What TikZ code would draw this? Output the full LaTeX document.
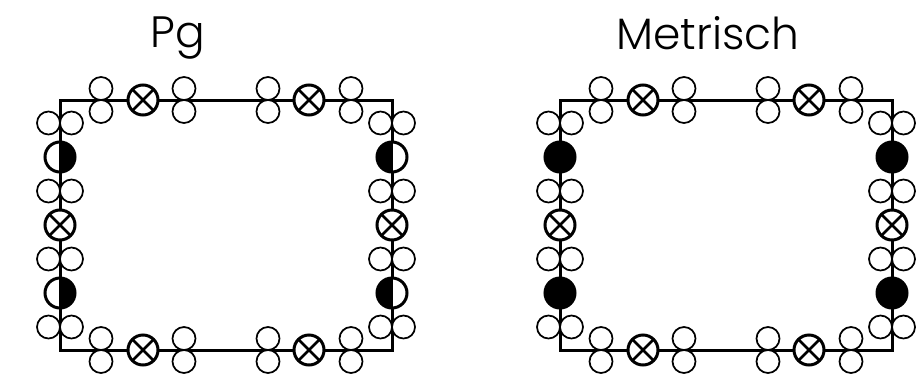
\documentclass[tikz,border=0pt]{standalone}
\usepackage{fontspec}
\newfontfamily\titlefont[UprightFont=* Light]{Poppins}
\tikzset{
  framebox/.style={line width=0.06cm},
  smallring/.style={circle,draw,line width=0.035cm,fill=white,inner sep=0pt,minimum size=0.46cm,outer sep=0pt},
  bigring/.style={circle,draw,line width=0.06cm,fill=white,inner sep=0pt,minimum size=0.6cm,outer sep=0pt},
  crossring/.style={bigring,path picture={
    \draw[line width=0.05cm] (path picture bounding box.north west) -- (path picture bounding box.south east);
    \draw[line width=0.05cm] (path picture bounding box.north east) -- (path picture bounding box.south west);}},
  blackring/.style={bigring,fill=black},
  halfright/.style={bigring,path picture={
    \fill[black] (path picture bounding box.north) rectangle (path picture bounding box.south east);
    \draw[line width=0.05cm] (path picture bounding box.north) -- (path picture bounding box.south);}},
  halfleft/.style={bigring,path picture={
    \fill[black] (path picture bounding box.north) rectangle (path picture bounding box.south west);
    \draw[line width=0.05cm] (path picture bounding box.north) -- (path picture bounding box.south);}},
  title/.style={font=\titlefont\fontsize{25}{25}\selectfont,inner sep=0pt,anchor=base}
}
\begin{document}
\begin{tikzpicture}
  \useasboundingbox (0,0) rectangle (18.44,7.52);

  \node (pgtitle) [title] at (3.55,6.58) {Pg};
  \node (mettitle) [title] at (14.16,6.54) {Metrisch};

  \foreach \name/\xs/\lstyle/\rstyle in {pg/0/halfright/halfleft, met/10/blackring/blackring} {
    \begin{scope}[shift={(1.2+\xs,0.52)}]
      \coordinate (\name sw) at (0,0);
      \coordinate (\name ne) at (6.64,5);
      \draw[framebox] (\name sw) rectangle (\name ne);

      % top and bottom side
      \foreach \y/\side in {0/b,5/t} {
        \foreach \x [count=\i] in {0.82,2.48,4.16,5.82} {
          \node (\name\side u\i) [smallring] at (\x,\y+0.23) {};
          \node (\name\side d\i) [smallring] at (\x,\y-0.23) {};
        }
        \foreach \x [count=\i] in {1.66,4.98}
          \node (\name\side x\i) [crossring] at (\x,\y) {};
      }

      % left and right side
      \foreach \x/\side/\halfstyle in {0/l/\lstyle,6.64/r/\rstyle} {
        \foreach \y [count=\i] in {0.46,1.82,3.18,4.54} {
          \node (\name\side a\i) [smallring] at (\x-0.23,\y) {};
          \node (\name\side b\i) [smallring] at (\x+0.23,\y) {};
        }
        \node (\name\side x) [crossring] at (\x,2.5) {};
        \foreach \y [count=\i] in {1.14,3.86}
          \node (\name\side h\i) [\halfstyle] at (\x,\y) {};
      }
    \end{scope}
  }
\end{tikzpicture}
\end{document}
